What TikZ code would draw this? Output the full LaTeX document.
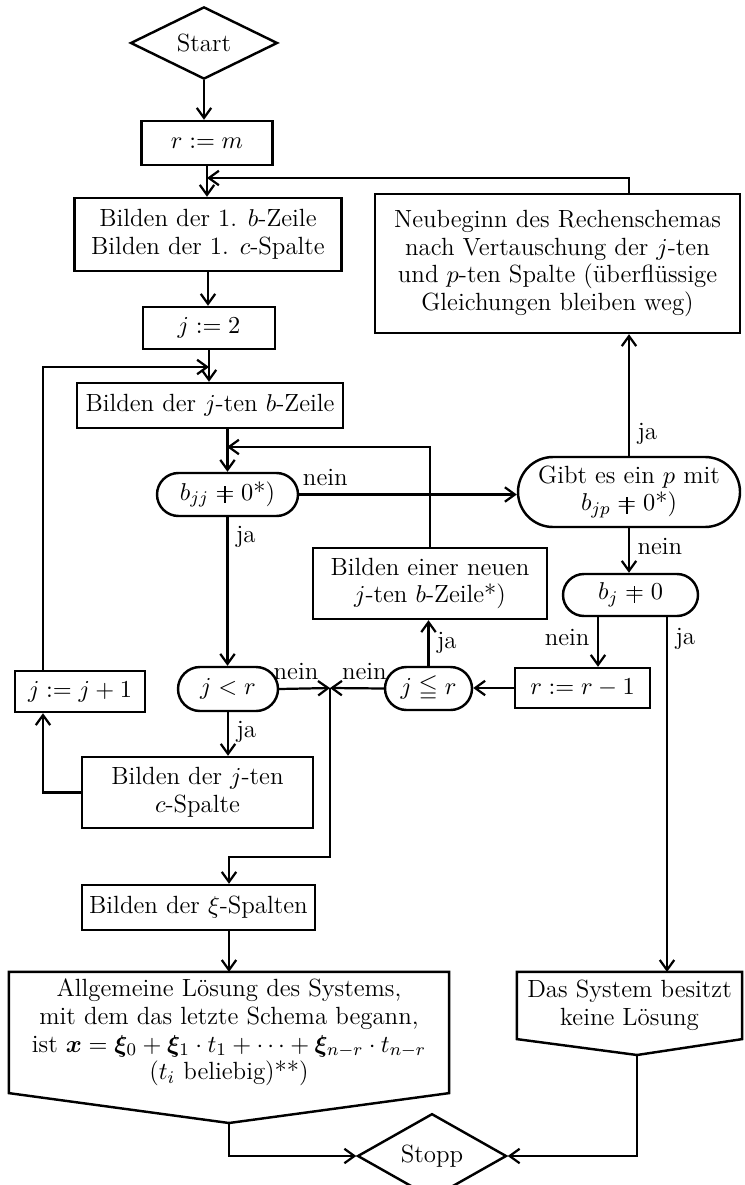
\documentclass[tikz,border=0pt]{standalone}
\usepackage{amsmath,amssymb,bm}
\usepackage{fontspec}
\usepackage{tikz}
\usetikzlibrary{shapes.geometric}
\usetikzlibrary{shapes.misc}
\usetikzlibrary{arrows.meta}
\usetikzlibrary{calc}

% one pixel of the scan
\newcommand{\PX}{0.45pt}
% old style "not equal" sign
\newcommand{\ungl}{\mathrel{\ooalign{$=$\cr\hidewidth\rule[-0.25ex]{0.5pt}{1.55ex}\hidewidth\cr}}}

\begin{document}
\begin{tikzpicture}[x=\PX, y=-\PX, line width=1pt,
    every node/.style={font=\fontsize{11.2}{12.4}\selectfont},
    box/.style={draw, rectangle, inner sep=0pt, align=center, line width=1.1pt},
    oval/.style={draw, rounded rectangle, inner sep=0pt, align=center, line width=1.1pt},
    term/.style={draw, diamond, inner sep=0pt, line width=1.1pt},
    plain/.style={inner sep=0pt, align=center},
    arr/.style={-{Straight Barb[length=4.5pt,width=6.5pt]}},
    ]

\useasboundingbox (0,0) rectangle (744,1185);

% Main column
\node [term, minimum width=147*\PX, minimum height=66*\PX] (start) at (204,43) {Start};
\node [box, minimum width=131*\PX, minimum height=44*\PX] (rm) at (207,143) {$r := m$};
\node [box, minimum width=267*\PX, minimum height=73*\PX] (bild1) at (208,234.5)
    {Bilden der 1. $b$-Zeile\\Bilden der 1. $c$-Spalte};
\node [box, minimum width=132*\PX, minimum height=42*\PX] (j2) at (209,328) {$j := 2$};
\node [box, minimum width=266*\PX, minimum height=45*\PX] (bildj) at (210,405.5)
    {Bilden der $j$-ten $b$-Zeile};
\node [oval, minimum width=141*\PX, minimum height=43*\PX] (bjj) at (227.5,494.5)
    {$b_{jj} \ungl 0$*)};
\node [oval, minimum width=100*\PX, minimum height=44*\PX] (jlr) at (228,689) {$j < r$};
\node [box, minimum width=130*\PX, minimum height=41*\PX] (jj1) at (80,691.5) {$j := j + 1$};
\node [box, minimum width=231*\PX, minimum height=71*\PX] (bildc) at (197.5,792.5)
    {Bilden der $j$-ten\\$c$-Spalte};
\node [box, minimum width=233*\PX, minimum height=45*\PX] (xi) at (198.5,907.5)
    {Bilden der $\xi$-Spalten};
\node [plain, minimum width=438*\PX, minimum height=119*\PX] (allg) at (229,1032.5)
    {Allgemeine Lösung des Systems,\\mit dem das letzte Schema begann,\\
     ist $\bm{x} = \bm{\xi}_0 + \bm{\xi}_1 \cdot t_1 + \cdots + \bm{\xi}_{n-r} \cdot t_{n-r}$\\
     ($t_i$ beliebig)**)};

% Right column
\node [box, minimum width=365*\PX, minimum height=139*\PX] (neub) at (557.5,263.5)
    {Neubeginn des Rechenschemas\\nach Vertauschung der $j$-ten\\
     und $p$-ten Spalte (überflüssige\\Gleichungen bleiben weg)};
\node [oval, minimum width=222*\PX, minimum height=70*\PX] (gibt) at (629,492)
    {Gibt es ein $p$ mit\\$b_{jp} \ungl 0$*)};
\node [oval, minimum width=135*\PX, minimum height=42*\PX] (bj) at (630.5,595) {$b_j \ungl 0$};
\node [box, minimum width=234*\PX, minimum height=71*\PX] (neuj) at (430,583.5)
    {Bilden einer neuen\\$j$-ten $b$-Zeile*)};
\node [oval, minimum width=87*\PX, minimum height=43*\PX] (jleq) at (428.5,688.5) {$j \leqq r$};
\node [box, minimum width=135*\PX, minimum height=40*\PX] (rm1) at (582.5,688) {$r := r - 1$};
\node [plain, minimum width=223*\PX, minimum height=65*\PX] (keine) at (629.5,1005.5)
    {Das System besitzt\\keine Lösung};
\node [term, minimum width=149*\PX, minimum height=66*\PX] (stopp) at (432,1156) {Stopp};

% Bends and junctions
\coordinate (allgTip) at (229,1123);
\coordinate (keineTip) at (637,1055);
\coordinate (mergeA) at (207,178);
\coordinate (mergeB) at (209,367);
\coordinate (mergeC) at (227,447);
\coordinate (loopL) at (43,367);
\coordinate (junc) at (330,688);
\coordinate (bend) at (229,857);

% Output boxes
\draw [line width=1.1pt] (allg.north west) -- (allg.north east) -- (allg.south east)
    -- (allgTip) -- (allg.south west) -- cycle;
\draw [line width=1.1pt] (keine.north west) -- (keine.north east) -- (keine.south east)
    -- (keineTip) -- (keine.south west) -- cycle;

% Connectors
\draw [arr] (start.south) -- (start.south |- rm.north);
\draw [arr] (rm.south) -- (rm.south |- bild1.north);
\draw [arr] (neub.north -| gibt.north) |- (mergeA);
\draw [arr] (bild1.south) -- (bild1.south |- j2.north);
\draw [arr] (j2.south) -- (j2.south |- bildj.north);
\draw [arr] (loopL |- jj1.north) -- (loopL) -- (mergeB);
\draw [arr] (bjj.north |- bildj.south) -- (bjj.north);
\draw [arr] (neuj.north) |- (mergeC);
\draw [arr] (bjj.east) -- node [pos=0.12, above] {nein} (bjj.east -| gibt.west);
\draw [arr] (bjj.south) -- node [pos=0.13, right] {ja} (bjj.south |- jlr.north);
\draw [arr] (gibt.north) -- node [pos=0.18, right] {ja} (gibt.north |- neub.south);
\draw [arr] (gibt.south) -- node [pos=0.4, right] {nein} (gibt.south |- bj.north);
\draw [arr] ([xshift=-32.5*\PX]bj.south) -- node [pos=0.4, left] {nein}
    ([xshift=-32.5*\PX]bj.south |- rm1.north);
\draw [arr] ([xshift=36.5*\PX]bj.south) -- node [pos=0.06, right] {ja}
    ([xshift=36.5*\PX]bj.south |- keine.north);
\draw [arr] (rm1.west) -- (rm1.west -| jleq.east);
\draw [arr] (jleq.north) -- node [pos=0.5, right] {ja} (jleq.north |- neuj.south);
\draw [arr] (jleq.west) -- node [pos=0.36, above] {nein} (junc);
\draw [arr] (jlr.east) -- node [pos=0.33, above] {nein} (junc);
\draw [arr] (junc) |- (bend) -- (bend |- xi.north);
\draw [arr] (jlr.south) -- node [pos=0.45, right] {ja} (jlr.south |- bildc.north);
\draw [arr] (bildc.west) -| (loopL |- jj1.south);
\draw [arr] (bend |- xi.south) -- (bend |- allg.north);
\draw [arr] (allgTip) |- (stopp.west);
\draw [arr] (keineTip) |- (stopp.east);

\end{tikzpicture}
\end{document}
